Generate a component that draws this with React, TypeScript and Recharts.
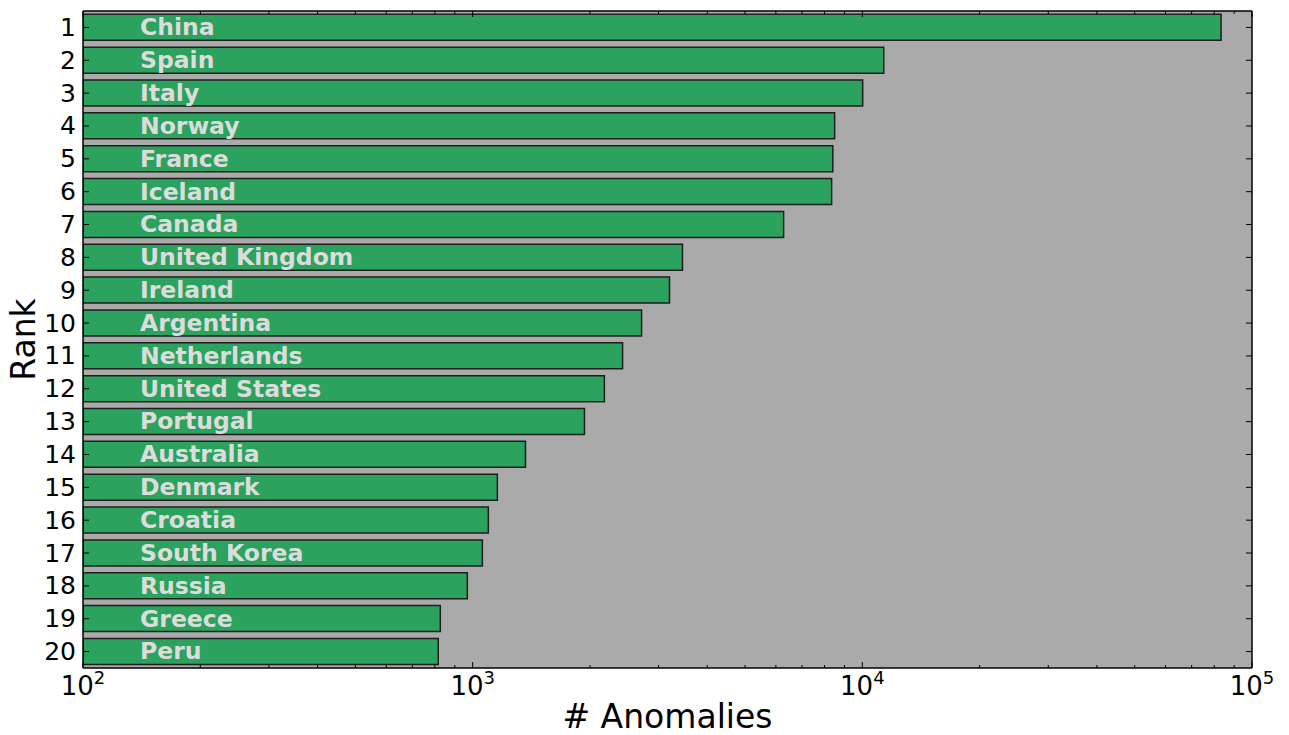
import { Bar, BarChart, CartesianGrid, LabelList, XAxis, YAxis } from 'recharts';

const countries = [
  'China', 'Spain', 'Italy', 'Norway', 'France', 'Iceland', 'Canada', 'United Kingdom',
  'Ireland', 'Argentina', 'Netherlands', 'United States', 'Portugal', 'Australia',
  'Denmark', 'Croatia', 'South Korea', 'Russia', 'Greece', 'Peru',
];
const anomalies = [
  83300, 11350, 10020, 8490, 8400, 8340, 6280, 3455, 3200, 2713,
  2425, 2178, 1936, 1366, 1157, 1097, 1059, 969, 826, 816,
];
const majorTicks = [100, 1000, 10000, 100000];
const minorTicks = [2, 3, 4, 5, 6, 7, 8, 9].flatMap(m => [m * 100, m * 1000, m * 10000]);
const xTicks = [...majorTicks, ...minorTicks].sort((a, b) => a - b);

const data = countries.map((country, i) => ({
  rank: String(i + 1),
  country,
  value: anomalies[i],
}));

const FONT = '"DejaVu Sans", sans-serif';
const MAJOR = 6;
const MINOR = 3;

const isMajor = (v: number) => majorTicks.includes(v);

function BottomTick({ x, y, payload }: any) {
  const v = payload.value as number;
  const major = isMajor(v);
  return (
    <g>
      <line x1={x} y1={y} x2={x} y2={y - (major ? MAJOR : MINOR)} stroke="#000" strokeWidth={1} />
      {major && (
        <text x={x} y={y + 27} textAnchor="middle" fontFamily={FONT} fontSize={26} fill="#000">
          10
          <tspan dy={-11} fontSize={18}>{Math.round(Math.log10(v))}</tspan>
        </text>
      )}
    </g>
  );
}

function TopTick({ x, y, payload }: any) {
  const major = isMajor(payload.value);
  return <line x1={x} y1={y} x2={x} y2={y + (major ? MAJOR : MINOR)} stroke="#000" strokeWidth={1} />;
}

function LeftTick({ x, y, payload }: any) {
  return (
    <g>
      <line x1={x} y1={y} x2={x + MAJOR} y2={y} stroke="#000" strokeWidth={1} />
      <text x={x - 7} y={y} dy={8.5} textAnchor="end" fontFamily={FONT} fontSize={25} fill="#000">
        {payload.value}
      </text>
    </g>
  );
}

function RightTick({ x, y }: any) {
  return <line x1={x - MAJOR} y1={y} x2={x} y2={y} stroke="#000" strokeWidth={1} />;
}

function NameLabel({ x, y, height, value }: any) {
  return (
    <text
      x={x + 57}
      y={y + height / 2}
      dy={8}
      fontFamily={FONT}
      fontWeight="bold"
      fontSize={23.5}
      fill="#dcdcdc"
    >
      {value}
    </text>
  );
}

export default function App() {
  return (
    <div style={{ position: 'absolute', left: 0, top: 0, width: 1289, height: 735 }}>
      <BarChart
        width={1289}
        height={735}
        data={data}
        layout="vertical"
        barCategoryGap="10%"
        margin={{ top: 10, right: 36, bottom: 0, left: 0 }}
      >
        <CartesianGrid fill="#aaaaaa" horizontal={false} vertical={false} />
        <XAxis
          type="number"
          scale="log"
          domain={[100, 100000]}
          allowDataOverflow
          ticks={xTicks}
          interval={0}
          height={67}
          tickSize={0}
          tickMargin={0}
          tick={<BottomTick />}
          axisLine={{ stroke: '#000', strokeWidth: 1.5 }}
          label={{
            value: '# Anomalies',
            position: 'insideBottom',
            offset: 7,
            fontFamily: FONT,
            fontSize: 33,
            fill: '#000',
          }}
        />
        <XAxis
          xAxisId="top"
          orientation="top"
          type="number"
          scale="log"
          domain={[100, 100000]}
          allowDataOverflow
          ticks={xTicks}
          interval={0}
          height={1}
          tickSize={0}
          tickMargin={0}
          tick={<TopTick />}
          axisLine={{ stroke: '#000', strokeWidth: 1.5 }}
        />
        <YAxis
          type="category"
          dataKey="rank"
          width={83}
          interval={0}
          tickSize={0}
          tickMargin={0}
          tick={<LeftTick />}
          axisLine={{ stroke: '#000', strokeWidth: 1.5 }}
          label={{
            content: ({ viewBox }: any) => (
              <text
                x={0}
                y={0}
                transform={`translate(${viewBox.x + 35}, ${viewBox.y + viewBox.height / 2}) rotate(-90)`}
                textAnchor="middle"
                fontFamily={FONT}
                fontSize={33}
                fill="#000"
              >
                Rank
              </text>
            ),
          }}
        />
        <YAxis
          yAxisId="right"
          orientation="right"
          type="category"
          dataKey="rank"
          width={1}
          interval={0}
          tickSize={0}
          tickMargin={0}
          tick={<RightTick />}
          axisLine={{ stroke: '#000', strokeWidth: 1.5 }}
        />
        <Bar dataKey="value" fill="#2ca25f" stroke="#1e1e1e" strokeWidth={1.5} isAnimationActive={false}>
          <LabelList dataKey="country" content={<NameLabel />} />
        </Bar>
      </BarChart>
    </div>
  );
}
